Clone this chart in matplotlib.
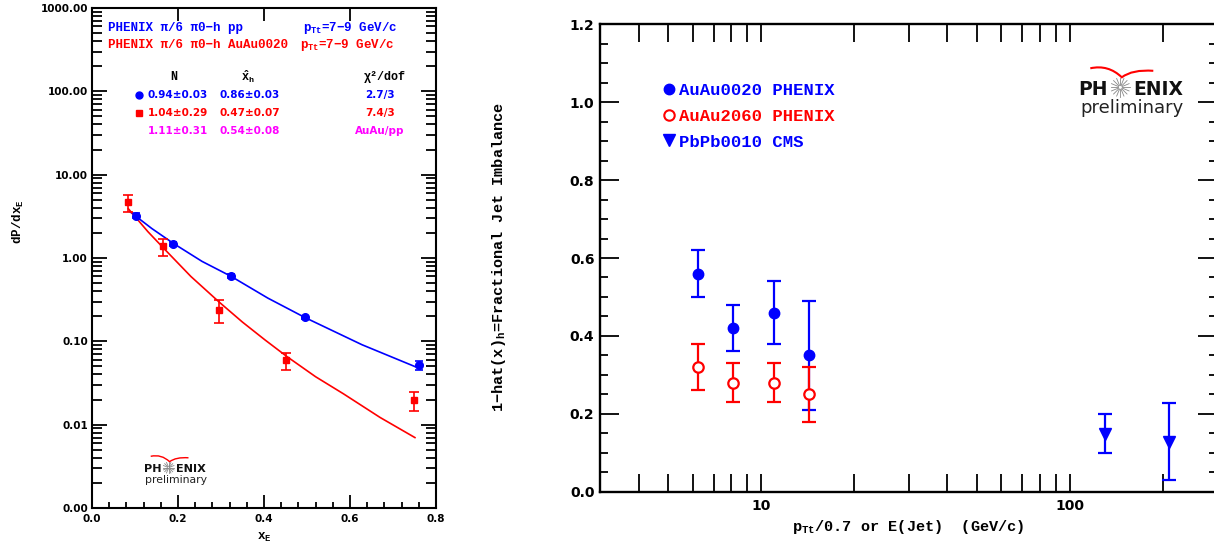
import numpy as np
import matplotlib
matplotlib.use("Agg")
import matplotlib.pyplot as plt
from matplotlib.lines import Line2D
from matplotlib.path import Path
from matplotlib.patches import PathPatch
from matplotlib.ticker import FixedLocator, MultipleLocator, NullFormatter, FuncFormatter

W, H = 1214, 546

# ---- left panel: dP/dxE for pi0-h, pTt = 7-9 GeV/c ----
PP_X = [0.1023, 0.189, 0.3233, 0.4953, 0.7612]
PP_Y = [3.22, 1.485, 0.603, 0.194, 0.0515]
PP_LO = [3.00, 1.40, 0.570, 0.184, 0.0447]
PP_HI = [3.44, 1.57, 0.635, 0.204, 0.0585]
AA_X = [0.0845, 0.166, 0.296, 0.452, 0.7496]
AA_Y = [4.66, 1.39, 0.238, 0.0592, 0.0198]
AA_LO = [3.54, 1.06, 0.164, 0.0453, 0.0147]
AA_HI = [5.75, 1.71, 0.313, 0.073, 0.0249]
# fit curves
PP_FIT_X = [0.0884, 0.139, 0.189, 0.256, 0.3233, 0.409, 0.4953, 0.628, 0.7628]
PP_FIT_Y = [3.59, 2.26, 1.50, 0.91, 0.603, 0.33, 0.193, 0.091, 0.047]
AA_FIT_X = [0.0845, 0.13, 0.166, 0.23, 0.296, 0.35, 0.4023, 0.4527, 0.52, 0.5845, 0.67, 0.751]
AA_FIT_Y = [3.9, 2.07, 1.32, 0.60, 0.295, 0.17, 0.104, 0.066, 0.0376, 0.0235, 0.0122, 0.007]

# ---- right panel: fractional jet imbalance ----
JET_X = [6.25, 8.07, 11.0, 14.3]
AU0020_Y = [0.56, 0.42, 0.46, 0.35]
AU0020_ERR = [0.06, 0.06, 0.08, 0.14]
AU2060_Y = [0.32, 0.28, 0.28, 0.25]
AU2060_ERR = [0.06, 0.05, 0.05, 0.07]
CMS_X = [130.0, 210.0]
CMS_Y = [0.148, 0.128]
CMS_LO = [0.100, 0.031]
CMS_HI = [0.200, 0.229]

MONO = ["Liberation Mono", "DejaVu Sans Mono"]
SANS = "DejaVu Sans"

plt.rcParams["font.family"] = MONO
plt.rcParams["mathtext.fontset"] = "custom"
plt.rcParams["mathtext.rm"] = "Liberation Mono:bold"
plt.rcParams["mathtext.it"] = "Liberation Mono:bold"
plt.rcParams["mathtext.bf"] = "Liberation Mono:bold"


def fx(px):
    return px / W


def fy(py):
    return 1 - py / H


def logo(fig, cx, cy, s):
    fs = 13.5 * s
    fig.text(fx(cx - 12.5 * s), fy(cy), "PH", ha="right", va="center_baseline",
             fontsize=fs, weight="bold", family=SANS, color="#111111")
    fig.text(fx(cx + 12.5 * s), fy(cy), "ENIX", ha="left", va="center_baseline",
             fontsize=fs, weight="bold", family=SANS, color="#111111")
    for a in np.linspace(0, 2 * np.pi, 16, endpoint=False):
        r0, r1 = 2.0 * s, 9.5 * s
        fig.add_artist(Line2D([fx(cx + r0 * np.cos(a)), fx(cx + r1 * np.cos(a))],
                              [fy(cy + r0 * np.sin(a)), fy(cy + r1 * np.sin(a))],
                              transform=fig.transFigure, color="#888888", lw=0.6))
    fig.text(fx(cx + 11.5 * s), fy(cy + 20.5 * s), "preliminary", ha="center", va="center",
             fontsize=13 * s, family=SANS, color="#222222")
    pts = [(-30, -19), (-12, -23), (1.5, -10), (12, -18), (33, -16.5)]
    verts = [(fx(cx + dx * s), fy(cy + dy * s)) for dx, dy in pts]
    path = Path(verts, [Path.MOVETO, Path.CURVE3, Path.CURVE3, Path.CURVE3, Path.CURVE3])
    fig.add_artist(PathPatch(path, transform=fig.transFigure, fill=False,
                             edgecolor="red", lw=1.2 * s + 0.3))


fig = plt.figure(figsize=(W / 100, H / 100), dpi=100)

# ================= left panel =================
ax1 = fig.add_axes([fx(92), fy(508), 344 / W, 500 / H])
ax1.set_yscale("log")
ax1.set_xlim(0, 0.8)
ax1.set_ylim(1e-3, 1e3)

ax1.plot(PP_FIT_X, PP_FIT_Y, color="blue", lw=1.2)
ax1.plot(AA_FIT_X, AA_FIT_Y, color="red", lw=1.2)
pp_err = [np.array(PP_Y) - np.array(PP_LO), np.array(PP_HI) - np.array(PP_Y)]
aa_err = [np.array(AA_Y) - np.array(AA_LO), np.array(AA_HI) - np.array(AA_Y)]
ax1.errorbar(PP_X, PP_Y, yerr=pp_err, fmt="o", color="blue", ms=5.5,
             capsize=3, elinewidth=1.2, capthick=1.2)
ax1.errorbar(AA_X, AA_Y, yerr=aa_err, fmt="s", color="red", ms=5,
             capsize=3.5, elinewidth=1.2, capthick=1.2)

ax1.xaxis.set_major_locator(MultipleLocator(0.2))
ax1.xaxis.set_minor_locator(MultipleLocator(0.04))
ax1.xaxis.set_major_formatter(FuncFormatter(lambda v, _: f"{v:.1f}"))
ax1.yaxis.set_major_locator(FixedLocator([1e-3, 1e-2, 1e-1, 1, 10, 100, 1000]))
ax1.yaxis.set_minor_locator(FixedLocator(
    [m * 10.0 ** e for e in range(-3, 3) for m in range(2, 10)]))
ax1.yaxis.set_major_formatter(FuncFormatter(lambda v, _: f"{v:.2f}"))
ax1.yaxis.set_minor_formatter(NullFormatter())
ax1.tick_params(which="both", direction="in", top=True, right=True, width=1.3)
ax1.tick_params(axis="x", which="minor", top=False, length=4.3)
ax1.tick_params(axis="x", which="major", length=9.5, pad=4)
ax1.tick_params(axis="y", which="major", length=10.8, pad=3)
ax1.tick_params(axis="y", which="minor", length=7)
for lab in ax1.get_xticklabels() + ax1.get_yticklabels():
    lab.set_fontfamily(SANS)
    lab.set_fontweight("bold")
    lab.set_fontsize(7.5)
for sp in ax1.spines.values():
    sp.set_linewidth(1.5)

fig.text(fx(264), fy(537), r"x$_{\rm E}$", ha="center", va="center", fontsize=9, weight="bold")
fig.text(fx(18), fy(222), r"dP/dx$_{\rm E}$", ha="center", va="center", fontsize=9,
         weight="bold", rotation=90)

# header text
fig.text(fx(108), fy(28), "PHENIX π/6 π0−h pp", color="blue", fontsize=9, weight="bold",
         va="center")
fig.text(fx(303), fy(28), r"p$_{\rm Tt}$=7−9 GeV/c", color="blue", fontsize=9,
         weight="bold", va="center")
fig.text(fx(108), fy(45), "PHENIX π/6 π0−h AuAu0020", color="red", fontsize=9,
         weight="bold", va="center")
fig.text(fx(300), fy(45), r"p$_{\rm Tt}$=7−9 GeV/c", color="red", fontsize=9,
         weight="bold", va="center")

fig.text(fx(174), fy(77), "N", ha="center", va="center", fontsize=8.5, weight="bold")
fig.text(fx(248), fy(77), r"$\hat{\rm x}_{\rm h}$", ha="center", va="center", fontsize=8.5)
fig.text(fx(385), fy(77), "χ²/dof", ha="center", va="center", fontsize=8.5, weight="bold")

ROWS = [
    ("blue", "o", "0.94±0.03", "0.86±0.03", "2.7/3", 95),
    ("red", "s", "1.04±0.29", "0.47±0.07", "7.4/3", 113),
    ("magenta", None, "1.11±0.31", "0.54±0.08", "AuAu/pp", 131),
]
for col, mk, n_txt, x_txt, chi_txt, py in ROWS:
    if mk:
        fig.add_artist(Line2D([fx(139)], [fy(py)], marker=mk, color=col, ms=5,
                              transform=fig.transFigure))
    kw = dict(color=col, fontsize=7.5, weight="bold", family=SANS, va="center")
    fig.text(fx(148), fy(py), n_txt, ha="left", **kw)
    fig.text(fx(220), fy(py), x_txt, ha="left", **kw)
    fig.text(fx(380), fy(py), chi_txt, ha="center", **kw)

logo(fig, 168.7, 467.7, 0.6)

# ================= right panel =================
ax2 = fig.add_axes([fx(600), fy(491.7), 617 / W, 467.4 / H])
ax2.set_xscale("log")
ax2.set_xlim(3, 300)
ax2.set_ylim(0, 1.2)

ax2.errorbar(JET_X, AU0020_Y, yerr=AU0020_ERR, fmt="o", color="blue", ms=7.5,
             capsize=5, elinewidth=1.6, capthick=1.6)
ax2.errorbar(JET_X, AU2060_Y, yerr=AU2060_ERR, fmt="o", color="red", mfc="white",
             mec="red", mew=1.6, ms=7.5, capsize=5, elinewidth=1.6, capthick=1.6)
cms_err = [np.array(CMS_Y) - np.array(CMS_LO), np.array(CMS_HI) - np.array(CMS_Y)]
ax2.errorbar(CMS_X, CMS_Y, yerr=cms_err, fmt="v", color="blue", ms=8.5,
             capsize=5, elinewidth=1.6, capthick=1.6)

ax2.xaxis.set_major_locator(FixedLocator([10, 100]))
ax2.xaxis.set_minor_locator(FixedLocator(
    [m * 10.0 ** e for e in range(0, 3) for m in range(2, 10)]))
ax2.xaxis.set_major_formatter(FuncFormatter(lambda v, _: f"{v:g}"))
ax2.xaxis.set_minor_formatter(NullFormatter())
ax2.yaxis.set_major_locator(MultipleLocator(0.2))
ax2.yaxis.set_minor_locator(MultipleLocator(0.05))
ax2.yaxis.set_major_formatter(FuncFormatter(lambda v, _: f"{v:.1f}"))
ax2.tick_params(which="both", direction="in", top=True, right=True, width=1.3)
ax2.tick_params(axis="x", which="both", length=13, pad=5)
ax2.tick_params(axis="y", which="major", length=13.7, pad=4)
ax2.tick_params(axis="y", which="minor", length=5.8)
for lab in ax2.get_xticklabels() + ax2.get_yticklabels():
    lab.set_fontfamily(SANS)
    lab.set_fontweight("bold")
    lab.set_fontsize(10)
for sp in ax2.spines.values():
    sp.set_linewidth(1.7)

ax2.set_xlabel(r"p$_{\rm Tt}$/0.7 or E(Jet)  (GeV/c)", fontsize=11, weight="bold",
               labelpad=4)
fig.text(fx(499), fy(257), r"1−hat(x)$_{\rm h}$=Fractional Jet Imbalance", ha="center",
         va="center", rotation=90, fontsize=11, weight="bold")

handles = [
    Line2D([], [], ls="none", marker="o", color="blue", ms=7.5),
    Line2D([], [], ls="none", marker="o", mfc="white", mec="red", mew=1.5, ms=7.5),
    Line2D([], [], ls="none", marker="v", color="blue", ms=8.5),
]
labels = ["AuAu0020 PHENIX", "AuAu2060 PHENIX", "PbPb0010 CMS"]
ax2.legend(handles, labels, loc="upper left", bbox_to_anchor=((663 - 600) / 617, (491.7 - 83) / 467.4),
           frameon=False, borderpad=0, borderaxespad=0, handlelength=0.7, handletextpad=0.25,
           labelspacing=0.62, labelcolor=["blue", "red", "blue"],
           prop={"family": MONO, "weight": "bold", "size": 12.4})

logo(fig, 1120.3, 87.3, 1.0)

fig.savefig("out.png", dpi=100)
